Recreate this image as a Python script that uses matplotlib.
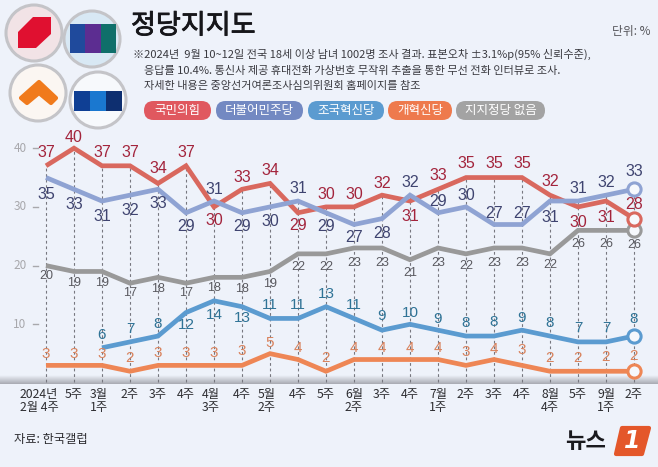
import numpy as np
import matplotlib
matplotlib.use('Agg')
import matplotlib.pyplot as plt
import matplotlib.patheffects as pe
from matplotlib.colors import LinearSegmentedColormap
from matplotlib.patches import Circle, FancyBboxPatch, Polygon, Rectangle

plt.rcParams['font.family'] = ['Noto Sans CJK KR', 'DejaVu Sans']
DIGITS = ['Liberation Sans', 'DejaVu Sans']

week_labels = ['2024년\n2월 4주', '5주', '3월\n1주', '2주', '3주', '4주', '4월\n3주', '4주',
               '5월\n2주', '4주', '5주', '6월\n2주', '3주', '4주', '7월\n1주', '2주', '3주',
               '4주', '8월\n4주', '5주', '9월\n1주', '2주']
ppp = [37, 40, 37, 37, 34, 37, 30, 33, 34, 29, 30, 30, 32, 31, 33, 35, 35, 35, 32, 30, 31, 28]
dem = [35, 33, 31, 32, 33, 29, 31, 29, 30, 31, 29, 27, 28, 32, 29, 30, 27, 27, 31, 31, 32, 33]
rebuild = [6, 7, 8, 12, 14, 13, 11, 11, 13, 11, 9, 10, 9, 8, 8, 9, 8, 7, 7, 8]
reform = [3, 3, 3, 2, 3, 3, 3, 3, 5, 4, 2, 4, 4, 4, 4, 3, 4, 3, 2, 2, 2, 2]
no_party = [20, 19, 19, 17, 18, 17, 18, 18, 19, 22, 22, 23, 23, 21, 23, 22, 23, 23, 22, 26, 26, 26]
y_ticks = [10, 20, 30, 40]

legend_names = ['국민의힘', '더불어민주당', '조국혁신당', '개혁신당', '지지정당 없음']
note_lines = ['※2024년  9월 10~12일 전국 18세 이상 남녀 1002명 조사 결과. 표본오차 ±3.1%p(95% 신뢰수준),',
              '응답률 10.4%. 통신사 제공 휴대전화 가상번호 무작위 추출을 통한 무선 전화 인터뷰로 조사.',
              '자세한 내용은 중앙선거여론조사심의위원회 홈페이지를 참조']

BG = '#eef2fa'
RED, BLUE, TEAL, ORANGE, GRAY = '#d9685e', '#8fa3d3', '#5b9bd0', '#ee8655', '#999999'

# label offsets in pixels from the point, up is positive
ppp_off = [13, 11, 13, 13, 15, 13, -14, 12, 13, -13, 12, 12, 12, -15, 14, 14, 14, 14, 14, -16, -16, 14]
dem_off = [-17, -15, -15, -15, -14, -14, 12, -14, -15, 13, -14, -13, -15, 13, 11, 11, 11, 11, -16, 13, 13, 18]
rebuild_off = [13, 13, 12, -12, -14, -11, 13, 13, 13, 13, 14, 11, 11, 13, 14, 12, 13, 14, 14, 17]
reform_off = [11, 11, 11, 13, 12, 12, 12, 14, 11, 12, 13, 12, 12, 12, 12, 13, 11, 15, 13, 13, 14, 15]
none_off = [-10, -12, -12, -10, -12, -10, -11, -12, -13, -13, -13, -15, -15, -13, -15, -12, -15, -15, -11, -14, -14, -15]

fig = plt.figure(figsize=(6.58, 4.67), dpi=100, facecolor=BG)

# pixel overlay for header, footer and logos, sits under the chart
ax_px = fig.add_axes([0, 0, 1, 1], zorder=2)
ax_px.axis('off')

# chart axes, index and percent mapped so that they line up with the reference
ax = fig.add_axes([0, 0, 1, 1], zorder=3)
ax.set_xlim(-46 / 28, (658 - 46) / 28)
ax.set_ylim(-84 / 5.87, 383 / 5.87)
ax.axis('off')

x = np.arange(len(week_labels))
x_rebuild = x[2:]

# baseline band
grad = np.linspace(0, 1, 30).reshape(-1, 1)
ax_px.imshow(grad, extent=(0, 658, 384, 375), aspect='auto',
             cmap=LinearSegmentedColormap.from_list('b', [BG, '#a9abb3']), zorder=0)
ax_px.set_xlim(0, 658)
ax_px.set_ylim(467, 0)

# dashed drop lines
tops = np.max([ppp, dem], axis=0)
ax.vlines(x, 0.2, tops, color='#77777f', lw=0.8, linestyles=(0, (2.5, 2.5)), zorder=1)

# y axis
for t in y_ticks:
    ax.text(-26 / 28, t, str(t), color='#a8a8ac', fontsize=8.5, ha='center', va='center')
    ax.plot([-13 / 28, -8 / 28], [t, t], color='#a8a8ac', lw=1)

series = [(no_party, x, GRAY, none_off, '#5a5a60', 9),
          (reform, x, ORANGE, reform_off, '#d9825c', 11),
          (rebuild, x_rebuild, TEAL, rebuild_off, '#2f7396', 11),
          (ppp, x, RED, ppp_off, '#a3243c', 11.5),
          (dem, x, BLUE, dem_off, '#3f4470', 11.5)]
for vals, xs, col, off, tcol, fs in series:
    ax.plot(xs, vals, color=col, lw=3.4, solid_joinstyle='miter', solid_capstyle='butt', zorder=3)
    ax.plot(xs[-1], vals[-1], 'o', ms=9.5, mfc='#f6f8fc', mec=col, mew=2.2, zorder=4)
    for xi, v, o in zip(xs, vals, off):
        ax.annotate(str(v), (xi, v), xytext=(0, o * 0.72), textcoords='offset points',
                    ha='center', va='center', fontsize=fs, color=tcol, zorder=5, family=DIGITS)

# x labels, the first and third sit a little left of their point
label_shift = {0: -7, 2: -3, 6: -3, 8: -3}
for xi, lab in zip(x, week_labels):
    ax_px.text(46 + 28 * xi + label_shift.get(xi, 0), 388, lab, ha='center', va='top',
               fontsize=8.8, color='#2c2c30', linespacing=1.0)

# header
ax_px.text(131, 26, '정당지지도', fontsize=19.5, color='#16161a', va='center', ha='left',
           path_effects=[pe.withStroke(linewidth=0.6, foreground='#16161a')])
ax_px.text(650, 31, '단위: %', fontsize=8.5, color='#55555a', va='center', ha='right')
ax_px.text(133, 54, note_lines[0], fontsize=8.0, color='#3a3a40', va='center')
ax_px.text(144, 71, note_lines[1], fontsize=8.0, color='#3a3a40', va='center')
ax_px.text(144, 86, note_lines[2], fontsize=8.0, color='#3a3a40', va='center')

pill_x = [(144, 211), (216, 303), (308, 384), (388, 452), (456, 545)]
pill_col = ['#e0585f', '#7389c2', '#5b9bd0', '#ee7a4d', '#a3a3a3']
for name, (x0, x1), col in zip(legend_names, pill_x, pill_col):
    ax_px.add_patch(FancyBboxPatch((x0 + 9.5, 110.5), x1 - x0 - 19, 0,
                                   boxstyle='round,pad=9.5', fc=col, ec='none'))
    ax_px.text((x0 + x1) / 2, 110.5, name, fontsize=9, color='white', ha='center', va='center')

# party logos
for cx, cy, r, face in [(34, 33, 28, '#f2e3e6'), (92, 39, 28, '#d8e8f4'), (38, 93, 28, '#fbf6f2'), (98, 100, 28, '#f7f9fc')]:
    ax_px.add_patch(Circle((cx, cy), r, fc=face, ec='#c4c4c8', lw=2.2))
ax_px.add_patch(Polygon([(18, 32), (33, 17), (51, 17), (51, 34), (36, 48), (18, 48)], fc='#e01030', ec='none'))
for i, col in enumerate(['#1f4a9c', '#5c2d91', '#0f6f6a']):
    ax_px.add_patch(Rectangle((70 + 15.3 * i, 24), 15.3, 29, fc=col, ec='none'))
ax_px.add_patch(Polygon([(21, 98), (39, 82), (56, 98), (51, 103), (39, 93), (27, 103)], fc='#f07a1c', ec='#f07a1c', lw=3, joinstyle='round'))
for i, col in enumerate(['#0f3f94', '#1a78d0', '#0e2f70']):
    ax_px.add_patch(Rectangle((74 + 16 * i, 91), 16, 20, fc=col, ec='none'))

# footer
ax_px.text(14, 440, '자료: 한국갤럽', fontsize=8.8, color='#2c2c30', va='center')
ax_px.text(586, 442, '뉴스', fontsize=16, color='#1a1a1e', va='center', ha='center', weight='bold')
ax_px.add_patch(Polygon([(622, 428), (649, 428), (642, 454), (616, 454)], fc='#e4572a', ec='#e4572a', lw=3, joinstyle='round'))
ax_px.text(632, 441, '1', fontsize=17, color='white', va='center', ha='center', weight='bold', style='italic', family='DejaVu Sans')

fig.savefig('out.png', dpi=100, facecolor=BG)
